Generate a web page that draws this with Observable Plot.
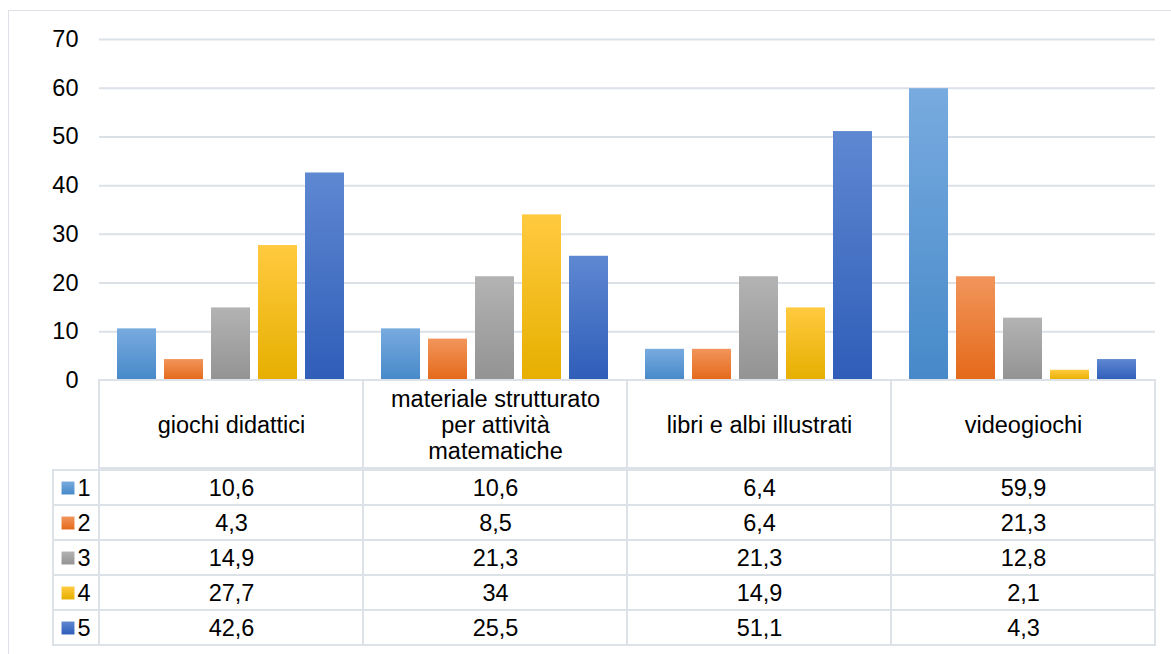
<!DOCTYPE html>
<html>
<head>
<meta charset="utf-8">
<script src="https://cdn.jsdelivr.net/npm/d3@7"></script>
<script src="https://cdn.jsdelivr.net/npm/@observablehq/plot@0.6"></script>
<style>
html, body { margin: 0; padding: 0; background: #fff; overflow: hidden; }
#root { position: relative; width: 1171px; height: 654px; overflow: hidden; background: #fff; font-family: "Liberation Sans", Arial, sans-serif; }
#frame { position: absolute; left: 8px; top: 10px; width: 1300px; height: 800px; border-left: 1.5px solid #dde1e7; border-top: 1.5px solid #dde1e7; box-sizing: border-box; }
.layer { position: absolute; }
#defs { position: absolute; left: 0; top: 0; width: 0; height: 0; }
</style>
</head>
<body>
<div id="root"><div id="frame"></div></div>
<script>
// ---- data ----
const categories = ["giochi didattici", "materiale strutturato per attività matematiche", "libri e albi illustrati", "videogiochi"];
const headerLabels = ["giochi didattici", "materiale strutturato\nper attività\nmatematiche", "libri e albi illustrati", "videogiochi"];
const series = ["1", "2", "3", "4", "5"];
const values1 = [10.6, 10.6, 6.4, 59.9];
const values2 = [4.3, 8.5, 6.4, 21.3];
const values3 = [14.9, 21.3, 21.3, 12.8];
const values4 = [27.7, 34, 14.9, 2.1];
const values5 = [42.6, 25.5, 51.1, 4.3];
const yTicks = [0, 10, 20, 30, 40, 50, 60, 70];

// ---- styles ----
const FONT = "'Liberation Sans', Arial, sans-serif";
const FS = 23.5;
const GRID = "#dce1e8";
const LINE = "#dde2e9";
const gradTop = ["#78abdf", "#f2955b", "#b3b3b3", "#ffca3f", "#5f88d2"];
const gradBottom = ["#4689c9", "#e4691a", "#939393", "#e6af00", "#2f5db8"];

const allValues = [values1, values2, values3, values4, values5];
const data = [];
series.forEach((s, i) => categories.forEach((c, j) => data.push({category: c, series: s, value: allValues[i][j]})));
const fmt = v => String(v).replace(".", ",");
const gradFill = s => `url(#grad-${s})`;

// gradient defs
const root = document.getElementById("root");
const defsSvg = document.createElementNS("http://www.w3.org/2000/svg", "svg");
defsSvg.setAttribute("id", "defs");
defsSvg.setAttribute("width", "0");
defsSvg.setAttribute("height", "0");
defsSvg.innerHTML = "<defs>" + series.map((s, i) =>
  `<linearGradient id="grad-${s}" x1="0" y1="0" x2="0" y2="1">
     <stop offset="0" stop-color="${gradTop[i]}"/>
     <stop offset="1" stop-color="${gradBottom[i]}"/>
   </linearGradient>`).join("") + "</defs>";
root.appendChild(defsSvg);

const baseStyle = {background: "transparent", overflow: "visible", fontFamily: FONT, fontSize: FS + "px", color: "#000"};

function place(el, left, top) {
  el.classList.add("layer");
  el.style.left = left + "px";
  el.style.top = top + "px";
  root.appendChild(el);
}

// ---- chart ----
const chart = Plot.plot({
  width: 1171, height: 381,
  marginLeft: 99, marginRight: 16, marginTop: 39, marginBottom: 1,
  style: baseStyle,
  fx: {domain: categories, padding: 0, axis: null},
  x: {domain: series, paddingInner: 0.17, paddingOuter: 0.39, axis: null},
  y: {domain: [0, 70], axis: null},
  color: {type: "identity"},
  marks: [
    Plot.ruleY(yTicks, {stroke: GRID, strokeWidth: 2}),
    Plot.barY(data, {fx: "category", x: "series", y: "value", fill: d => gradFill(d.series)}),
    Plot.axisY({ticks: yTicks, tickSize: 0, tickPadding: 21, fontSize: FS, label: null, fill: "#000"})
  ]
});
place(chart, 0, 0);

// ---- table header ----
const header = Plot.plot({
  width: 1171, height: 88,
  marginLeft: 99, marginRight: 16, marginTop: 0, marginBottom: 0,
  style: baseStyle,
  x: {domain: categories, padding: 0, axis: null},
  marks: [
    Plot.cell(categories, {x: d => d, fill: "white", stroke: LINE, strokeWidth: 2}),
    Plot.text(categories, {x: d => d, text: (d, i) => headerLabels[i], fontSize: FS, lineHeight: 1.1, fill: "#000"})
  ]
});
place(header, 0, 380);

// ---- table rows ----
const rows = Plot.plot({
  width: 1171, height: 179,
  marginLeft: 99, marginRight: 16, marginTop: 0, marginBottom: 0,
  style: baseStyle,
  x: {domain: categories, padding: 0, axis: null},
  y: {domain: series, padding: 0, axis: null},
  marks: [
    Plot.cell(data, {x: "category", y: "series", fill: "white", stroke: LINE, strokeWidth: 2}),
    Plot.text(data, {x: "category", y: "series", text: d => fmt(d.value), fontSize: FS, fill: "#000"})
  ]
});
place(rows, 0, 468);

// ---- legend column ----
const legend = Plot.plot({
  width: 46, height: 179,
  marginLeft: 0, marginRight: 0, marginTop: 0, marginBottom: 0,
  style: baseStyle,
  y: {domain: series, padding: 0, axis: null},
  color: {type: "identity"},
  marks: [
    Plot.cell(series, {y: d => d, fill: "white", stroke: LINE, strokeWidth: 2}),
    Plot.dot(series, {y: d => d, frameAnchor: "left", dx: 14.5, symbol: "square", r: 7.3, fill: d => gradFill(d), stroke: "none"}),
    Plot.text(series, {y: d => d, frameAnchor: "left", dx: 24, textAnchor: "start", text: d => d, fontSize: FS, fill: "#000"})
  ]
});
place(legend, 53, 468);
</script>
</body>
</html>
